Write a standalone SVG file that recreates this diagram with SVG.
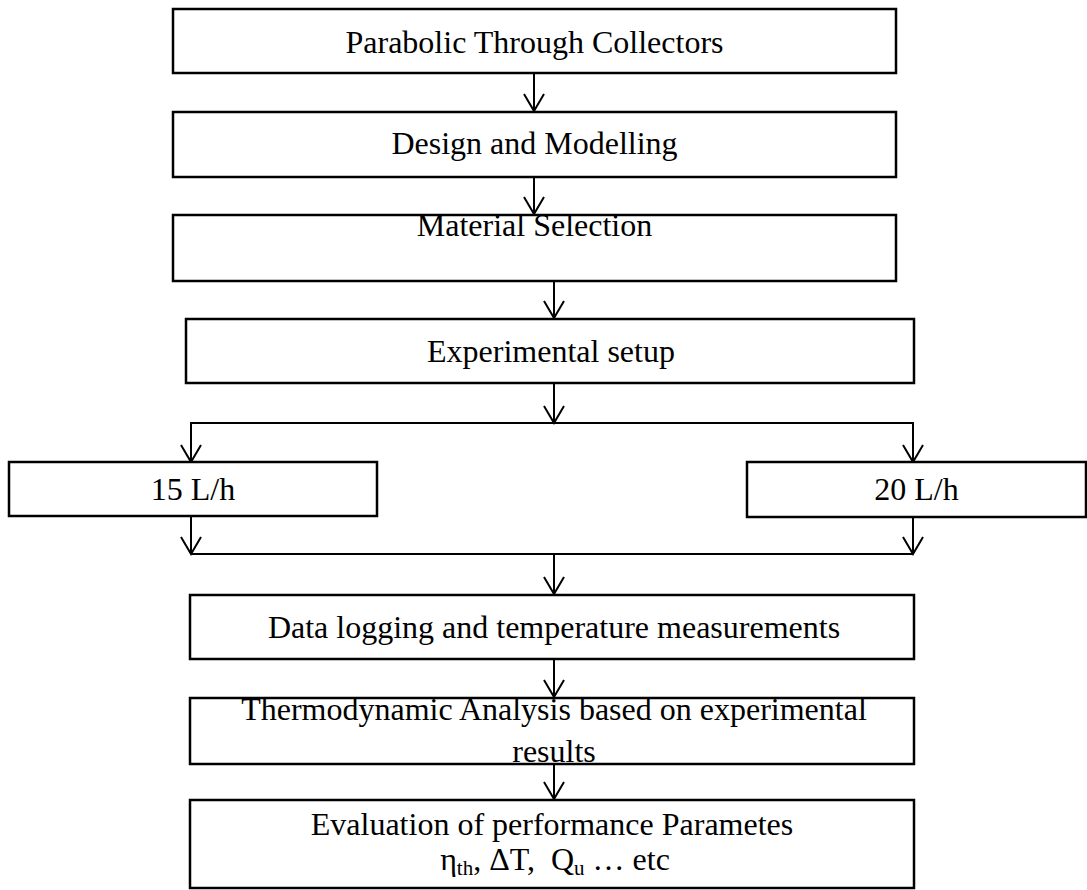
<svg xmlns="http://www.w3.org/2000/svg" width="1087" height="890" viewBox="0 0 1087 890">
<defs>
<style>
.box{fill:#fff;stroke:#000;stroke-width:2.5}
.t{font-family:"Liberation Serif","Times New Roman",serif;font-size:32px;fill:#000;text-anchor:middle;white-space:pre}
.c{fill:none;stroke:#000;stroke-width:2}
.ah{fill:none;stroke:#000;stroke-width:2}
</style>
</defs>
<rect width="1087" height="890" fill="#fff"/>
<g id="connectors">
<line class="c" x1="534" y1="73" x2="534" y2="111"/>
<line class="c" x1="534" y1="177" x2="534" y2="214"/>
<line class="c" x1="554" y1="281" x2="554" y2="318"/>
<line class="c" x1="554" y1="383" x2="554" y2="423"/>
<polyline class="c" points="191,462 191,423 913,423 913,462"/>
<line class="c" x1="191" y1="516" x2="191" y2="554"/>
<line class="c" x1="913" y1="517" x2="913" y2="554"/>
<line class="c" x1="191" y1="554" x2="913" y2="554"/>
<line class="c" x1="554" y1="554" x2="554" y2="594"/>
<line class="c" x1="554" y1="659" x2="554" y2="697"/>
<line class="c" x1="554" y1="764" x2="554" y2="799"/>
<g class="ah">
<path d="M524,94 L534,111 L544,94"/>
<path d="M524,197 L534,214 L544,197"/>
<path d="M544,301 L554,318 L564,301"/>
<path d="M544,406 L554,423 L564,406"/>
<path d="M181,445 L191,462 L201,445"/>
<path d="M903,445 L913,462 L923,445"/>
<path d="M181,537 L191,554 L201,537"/>
<path d="M903,537 L913,554 L923,537"/>
<path d="M544,577 L554,594 L564,577"/>
<path d="M544,680 L554,697 L564,680"/>
<path d="M544,782 L554,799 L564,782"/>
</g>
</g>
<g id="n1"><rect class="box" x="173" y="9" width="723" height="64"/><text class="t" x="534.5" y="53">Parabolic Through Collectors</text></g>
<g id="n2"><rect class="box" x="173" y="112" width="723" height="65"/><text class="t" x="534.5" y="154">Design and Modelling</text></g>
<g id="n3"><rect class="box" x="173" y="215" width="723" height="66"/><text class="t" x="534.5" y="236">Material Selection</text></g>
<g id="n4"><rect class="box" x="186" y="319" width="728" height="64"/><text class="t" x="551" y="362">Experimental setup</text></g>
<g id="n5"><rect class="box" x="9" y="462" width="368" height="54"/><text class="t" x="193" y="500">15 L/h</text></g>
<g id="n6"><rect class="box" x="747" y="462" width="339" height="55"/><text class="t" x="916.5" y="500">20 L/h</text></g>
<g id="n7"><rect class="box" x="190" y="595" width="724" height="64"/><text class="t" x="554" y="638">Data logging and temperature measurements</text></g>
<g id="n8"><rect class="box" x="190" y="698" width="724" height="66"/><text class="t" x="554" y="720">Thermodynamic Analysis based on experimental</text><text class="t" x="554" y="762">results</text></g>
<g id="n9"><rect class="box" x="190" y="800" width="724" height="88"/><text class="t" x="552" y="835">Evaluation of performance Parametes</text><text class="t" x="555" y="870">η<tspan font-size="21" dy="5">th</tspan><tspan dy="-5">, ΔT,  Q</tspan><tspan font-size="21" dy="5">u</tspan><tspan dy="-5"> … etc</tspan></text></g>
</svg>
